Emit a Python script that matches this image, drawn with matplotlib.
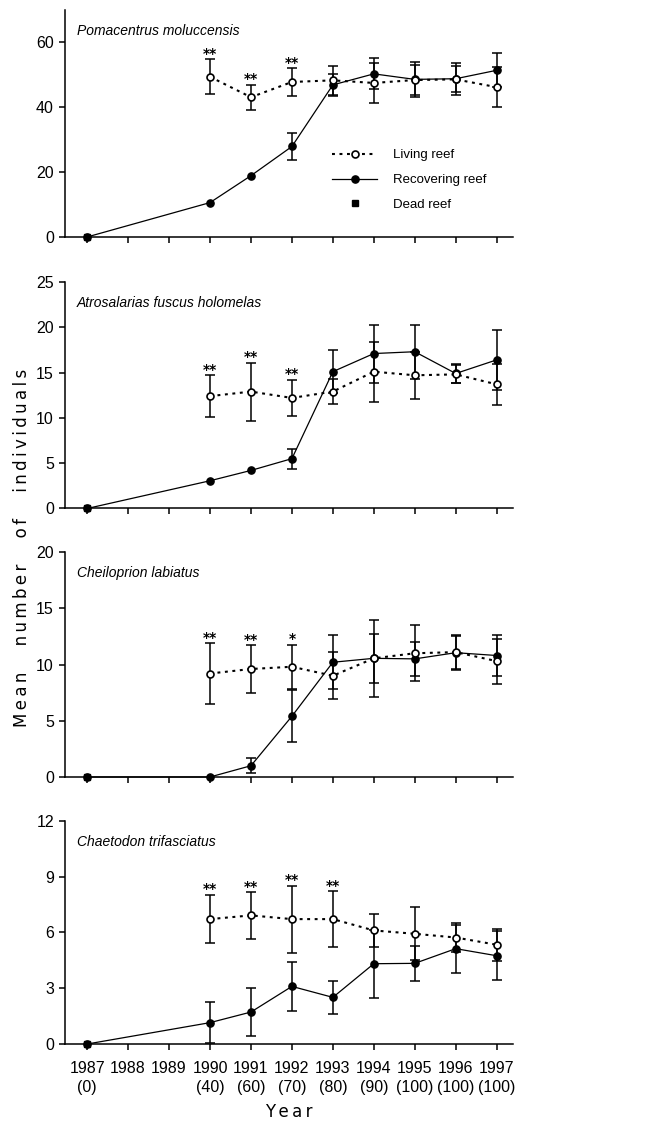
import numpy as np
import matplotlib
matplotlib.use('Agg')
import matplotlib.pyplot as plt

plt.rcParams['font.family'] = ['Liberation Sans', 'DejaVu Sans']

# sampling years; living reef was only surveyed from 1990
years = np.array([1987, 1990, 1991, 1992, 1993, 1994, 1995, 1996, 1997])
living_years = years[1:]
dead_years = np.array([1987])
tick_years = np.arange(1987, 1998)
tick_labels = ['1987\n(0)', '1988', '1989', '1990\n(40)', '1991\n(60)', '1992\n(70)',
               '1993\n(80)', '1994\n(90)', '1995\n(100)', '1996\n(100)', '1997\n(100)']

species = ['Pomacentrus moluccensis', 'Atrosalarias fuscus holomelas',
           'Cheiloprion labiatus', 'Chaetodon trifasciatus']

# Pomacentrus moluccensis
pom_living = [49.4, 43.1, 47.8, 48.3, 47.5, 48.4, 48.6, 46.2]
pom_living_err = [5.4, 3.8, 4.2, 4.5, 6.3, 4.5, 4.0, 6.2]
pom_recov = [0, 10.6, 18.9, 27.9, 46.9, 50.3, 48.6, 48.8, 51.4]
pom_recov_err = [0, 0, 0, 4.2, 3.3, 4.8, 5.3, 5.0, 5.2]
pom_dead = [0]
pom_stars = ['**', '**', '**', '', '', '', '', '']

# Atrosalarias fuscus holomelas
atr_living = [12.4, 12.9, 12.2, 12.9, 15.1, 14.7, 14.8, 13.7]
atr_living_err = [2.3, 3.2, 2.0, 1.4, 3.3, 2.6, 1.0, 2.3]
atr_recov = [0, 3.06, 4.2, 5.5, 15.1, 17.1, 17.3, 14.9, 16.4]
atr_recov_err = [0, 0, 0, 1.1, 2.4, 3.2, 3.0, 1.0, 3.3]
atr_dead = [0]
atr_stars = ['**', '**', '**', '', '', '', '', '']

# Cheiloprion labiatus
che_living = [9.2, 9.6, 9.8, 9.0, 10.55, 11.0, 11.1, 10.3]
che_living_err = [2.7, 2.1, 1.95, 2.1, 2.2, 2.5, 1.5, 2.0]
che_recov = [0, 0, 1.0, 5.4, 10.2, 10.55, 10.5, 11.05, 10.8]
che_recov_err = [0, 0, 0.65, 2.3, 2.4, 3.4, 1.5, 1.5, 1.8]
che_dead = [0]
che_stars = ['**', '**', '*', '', '', '', '', '']

# Chaetodon trifasciatus
cha_living = [6.72, 6.92, 6.72, 6.72, 6.11, 5.93, 5.73, 5.34]
cha_living_err = [1.3, 1.25, 1.8, 1.5, 0.87, 1.42, 0.8, 0.85]
cha_recov = [0, 1.15, 1.72, 3.1, 2.51, 4.32, 4.34, 5.13, 4.75]
cha_recov_err = [0, 1.1, 1.28, 1.3, 0.87, 1.83, 0.93, 1.3, 1.33]
cha_dead = [0]
cha_stars = ['**', '**', '**', '**', '', '', '', '']

panels = [
    (pom_living, pom_living_err, pom_recov, pom_recov_err, pom_dead, pom_stars, 70, [0, 20, 40, 60]),
    (atr_living, atr_living_err, atr_recov, atr_recov_err, atr_dead, atr_stars, 25, [0, 5, 10, 15, 20, 25]),
    (che_living, che_living_err, che_recov, che_recov_err, che_dead, che_stars, 20, [0, 5, 10, 15, 20]),
    (cha_living, cha_living_err, cha_recov, cha_recov_err, cha_dead, cha_stars, 12, [0, 3, 6, 9, 12]),
]

fig = plt.figure(figsize=(6.69, 11.22), dpi=100)
rects = [[0.0972, 0.7888, 0.6697, 0.2023],
         [0.0972, 0.5468, 0.6697, 0.2019],
         [0.0972, 0.3075, 0.6697, 0.2005],
         [0.0972, 0.0695, 0.6697, 0.1988]]

for i, (liv, liv_err, rec, rec_err, dead, stars, ytop, yticks) in enumerate(panels):
    ax = fig.add_axes(rects[i])
    liv = np.array(liv); liv_err = np.array(liv_err)
    rec = np.array(rec); rec_err = np.array(rec_err)

    m = liv_err > 0
    ax.errorbar(living_years[m], liv[m], yerr=liv_err[m], fmt='none', ecolor='black',
                elinewidth=1.1, capsize=3.5, capthick=1.1, zorder=2, clip_on=False)
    m = rec_err > 0
    ax.errorbar(years[m], rec[m], yerr=rec_err[m], fmt='none', ecolor='black',
                elinewidth=1.1, capsize=3.5, capthick=1.1, zorder=2, clip_on=False)

    l1, = ax.plot(living_years, liv, ls=(0, (1.4, 2.2)), color='black', lw=1.5,
                  marker='o', ms=5, mfc='white', mec='black', mew=1.2, zorder=4, clip_on=False)
    l2, = ax.plot(years, rec, ls='-', color='black', lw=0.9,
                  marker='o', ms=5.2, mfc='black', mec='black', zorder=3, clip_on=False)
    l3, = ax.plot(dead_years, dead, ls='none', marker='s', ms=5, color='black',
                  zorder=5, clip_on=False)

    for x, y, e, s in zip(living_years, liv, liv_err, stars):
        if s:
            ax.annotate(s, (x, y + e), xytext=(0, -1), textcoords='offset points',
                        ha='center', va='bottom', fontsize=10, fontweight='bold',
                        family='DejaVu Sans')

    ax.set_xlim(1986.46, 1997.4)
    ax.set_ylim(0, ytop)
    ax.set_yticks(yticks)
    ax.set_xticks(tick_years)
    for side in ['top', 'right']:
        ax.spines[side].set_visible(False)
    for side in ['left', 'bottom']:
        ax.spines[side].set_linewidth(1.1)
    ax.tick_params(axis='both', direction='out', length=4, width=1.1, labelsize=11.5)
    ax.tick_params(axis='y', pad=4)
    if i == 3:
        ax.set_xticklabels(tick_labels, linespacing=1.35)
        ax.tick_params(axis='x', pad=8)
        ax.set_xlabel('Y\u2009e\u2009a\u2009r', fontsize=12, family='DejaVu Sans', labelpad=6)
    else:
        ax.set_xticklabels([])

    ax.annotate(species[i], (0.027, 1), xycoords='axes fraction', xytext=(0, -15),
                textcoords='offset points', ha='left', va='center', style='italic',
                fontsize=10)

    if i == 0:
        ax.legend([l1, l2, l3], ['Living reef', 'Recovering reef', 'Dead reef'],
                  loc='upper left', bbox_to_anchor=(0.585, 0.41), frameon=False,
                  handlelength=3.4, handletextpad=1.2, labelspacing=0.95,
                  borderaxespad=0, prop={'size': 9.5})

label_words = ['Mean', 'number', 'of', 'individuals']
ylabel = '     '.join('\u2009'.join(w) for w in label_words)
fig.text(0.033, 0.512, ylabel, rotation=90, ha='center', va='center',
         fontsize=12, family='DejaVu Sans')

plt.savefig('out.png', dpi=100)
